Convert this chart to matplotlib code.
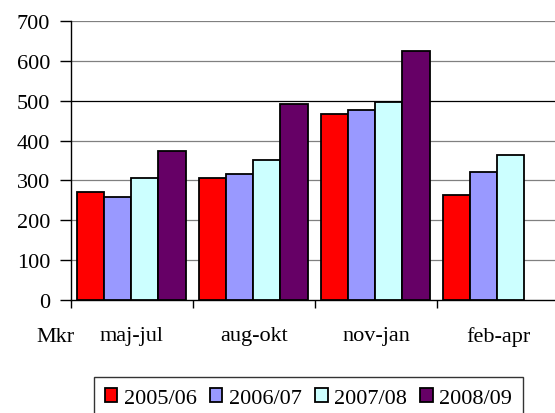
import matplotlib.pyplot as plt
import numpy as np

# Data
periods = ['maj-jul', 'aug-okt', 'nov-jan', 'feb-apr']
seasons = ['2005/06', '2006/07', '2007/08', '2008/09']
values = {
    '2005/06': [270, 305, 467, 264],
    '2006/07': [258, 317, 477, 321],
    '2007/08': [305, 352, 498, 364],
    '2008/09': [374, 492, 624, np.nan],
}
colors = ['#ff0000', '#9999ff', '#ccffff', '#660066']
y_ticks = [0, 100, 200, 300, 400, 500, 600, 700]

plt.rcParams['font.family'] = ['Liberation Serif', 'DejaVu Serif']

fig = plt.figure(figsize=(5.55, 4.14), dpi=100, facecolor='white')
ax = fig.add_axes([71 / 555, 1 - 301 / 414, 488 / 555, 279 / 414])

x = np.arange(len(periods))
w = 0.222
for k, (s, c) in enumerate(zip(seasons, colors)):
    ax.bar(x + (k - 1.5) * w - 0.005, values[s], w, color=c, edgecolor='black',
           linewidth=1.3, label=s, zorder=3)

ax.set_ylim(0, 700)
ax.set_xlim(-0.5, len(periods) - 0.5)
ax.set_yticks(y_ticks)
ax.set_yticklabels([str(t) for t in y_ticks], fontsize=16)
for t in y_ticks[1:]:
    ax.axhline(t, color='black' if t == 500 else '#808080', lw=0.9, zorder=1)

# category boundary ticks (minor), labels at group centres (major)
ax.set_xticks(np.arange(len(periods) + 1) - 0.5, minor=True)
ax.set_xticks(x)
ax.set_xticklabels(periods, fontsize=16)
ax.tick_params(axis='x', which='major', length=0, pad=19)
ax.tick_params(axis='x', which='minor', length=6, width=1, direction='out')
ax.tick_params(axis='y', length=8, width=1, direction='out', pad=7)

for sp in ['top', 'right']:
    ax.spines[sp].set_visible(False)
ax.spines['left'].set_linewidth(1)
ax.spines['bottom'].set_linewidth(1)

ax.text(-0.032, -0.147, 'Mkr', transform=ax.transAxes, fontsize=16,
        ha='center', va='baseline')

leg = fig.legend(loc='upper left', bbox_to_anchor=(94 / 555, 1 - 378 / 414),
                 ncol=4, fontsize=16, frameon=True, fancybox=False,
                 edgecolor='black', handlelength=0.55, handleheight=0.55,
                 handletextpad=0.3, columnspacing=0.6, borderpad=0.5,
                 borderaxespad=0)
leg.get_frame().set_linewidth(1)

fig.savefig('out.png', dpi=100)
